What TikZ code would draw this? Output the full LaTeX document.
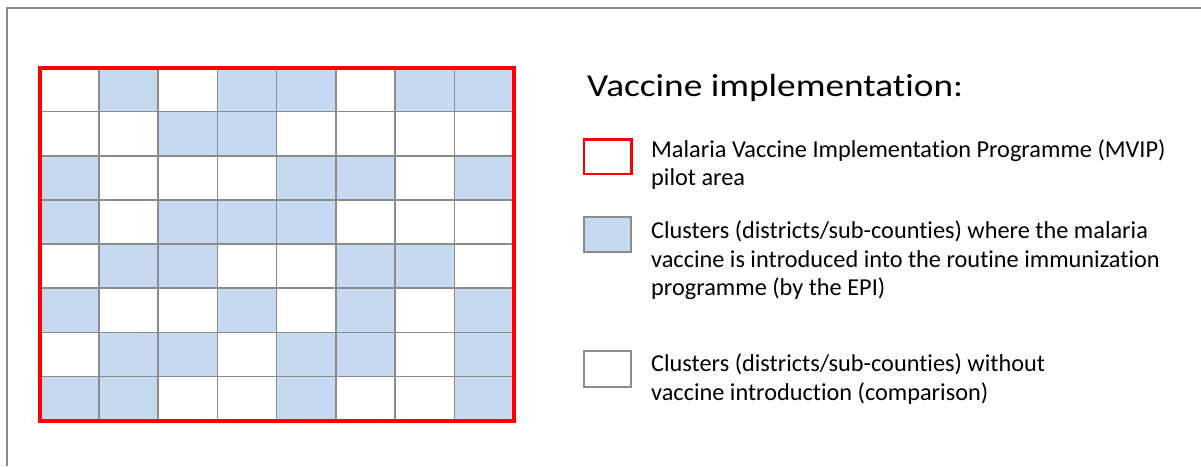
\documentclass[tikz,border=0pt]{standalone}
\usepackage{fontspec}
\setmainfont[Ligatures=NoCommon]{Carlito}
\definecolor{cellblue}{RGB}{198,217,240}
\definecolor{gridgray}{RGB}{140,140,140}
\definecolor{framegray}{RGB}{136,136,136}
\definecolor{pilotred}{RGB}{255,0,0}
\tikzset{
  cellline/.style={draw=gridgray, line width=1.5pt},
  legendbox/.style={line width=2pt},
  legendtext/.style={anchor=base west, inner sep=0pt, align=left, font=\fontsize{24.3}{28.6}\selectfont},
  titletext/.style={anchor=base west, inner sep=0pt, font=\fontsize{32}{36}\selectfont}
}
\begin{document}
\begin{tikzpicture}[x=1pt,y=-1pt]
\useasboundingbox (0,0) rectangle (1201,466);
\fill[white] (0,0) rectangle (1201,466);
% outer frame
\draw[framegray, line width=2pt] (7,466) -- (7,7.5) -- (1201,7.5);
% grid
\def\gx{39.5}\def\gy{67.5}\def\cw{59.25}\def\ch{44.125}
\foreach \r/\p in {0/{0,1,0,1,1,0,1,1},1/{0,0,1,1,0,0,0,0},2/{1,0,0,0,1,1,0,1},3/{1,0,1,1,1,0,0,0},4/{0,1,1,0,0,1,1,0},5/{1,0,0,1,0,1,0,1},6/{0,1,1,0,1,1,0,1},7/{1,1,0,0,1,0,0,1}}{
  \foreach \v [count=\c from 0] in \p {
    \ifnum\v=1
      \fill[cellblue] ({\gx+\c*\cw},{\gy+\r*\ch}) rectangle ++(\cw,\ch);
    \fi
  }
}
\foreach \i in {1,...,7}{
  \draw[cellline] ({\gx+\i*\cw},\gy) -- ({\gx+\i*\cw},{\gy+8*\ch});
  \draw[cellline] (\gx,{\gy+\i*\ch}) -- ({\gx+8*\cw},{\gy+\i*\ch});
}
\draw[pilotred, line width=4pt] (\gx,\gy) rectangle ({\gx+8*\cw},{\gy+8*\ch});
% legend
\node[titletext] (title) at (587,96) {\scalebox{1.165}[1]{Vaccine implementation:}};
\draw[legendbox, draw=pilotred, line width=2.5pt] (583.8,139.5) rectangle (631.3,174);
\draw[legendbox, draw=gridgray, fill=cellblue] (583.8,216.5) rectangle (631.3,252);
\draw[legendbox, draw=gridgray, fill=white] (583.8,351) rectangle (631.3,386.5);
\node[legendtext] (l1) at (651,185.8) {Malaria Vaccine Implementation Programme (MVIP)\\pilot area};
\node[legendtext] (l2) at (651,295.8) {Clusters (districts/sub-counties) where the malaria\\vaccine is introduced into the routine immunization\\programme (by the EPI)};
\node[legendtext] (l3) at (651,400) {Clusters (districts/sub-counties) without\\vaccine introduction (comparison)};
\end{tikzpicture}
\end{document}
